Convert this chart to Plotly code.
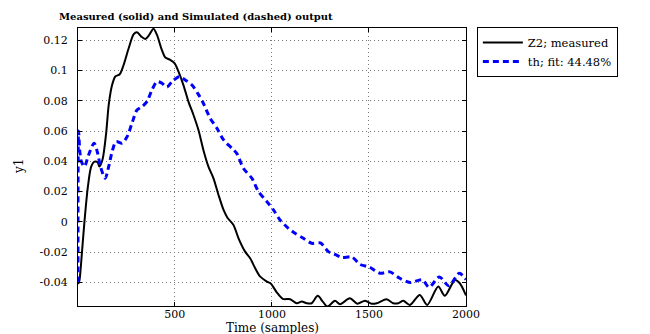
import plotly.graph_objects as go

# ---- data ----
t_meas = [1, 4, 9, 21, 35, 52, 69, 86, 102, 111, 127, 146, 159, 176, 193, 216, 236, 262, 288, 305,
          327, 348, 368, 390, 408, 430, 451, 476, 499, 519, 545, 570, 596, 622, 648, 673, 699, 725,
          751, 771, 802, 828, 862, 888, 914, 939, 974, 995, 1025, 1056, 1094, 1128, 1154, 1180,
          1205, 1236, 1262, 1286, 1325, 1351, 1402, 1440, 1480, 1514, 1540, 1591, 1625, 1651,
          1677, 1711, 1762, 1800, 1857, 1891, 1943, 1968, 2000]
y_meas = [-0.0395, -0.0405, -0.0383, -0.0207, 0.0013, 0.0233, 0.0365, 0.0398, 0.0394, 0.0365,
          0.0410, 0.0585, 0.0770, 0.0900, 0.0960, 0.0975, 0.1036, 0.1146, 0.1239, 0.1252,
          0.1223, 0.1208, 0.1234, 0.1275, 0.1234, 0.1146, 0.1085, 0.1070, 0.1047, 0.0992,
          0.0900, 0.0794, 0.0706, 0.0605, 0.0470, 0.0365, 0.0288, 0.0178, 0.0079, 0.0028,
          -0.0020, -0.0108, -0.0196, -0.0240, -0.0306, -0.0360, -0.0394, -0.0408, -0.0465,
          -0.0508, -0.0510, -0.0537, -0.0526, -0.0537, -0.0537, -0.0488, -0.0526, -0.0559,
          -0.0521, -0.0543, -0.0504, -0.0540, -0.0520, -0.0540, -0.0537, -0.0510, -0.0537,
          -0.0537, -0.0521, -0.0548, -0.0482, -0.0548, -0.0427, -0.0488, -0.0383, -0.0405,
          -0.0485]

t_sim = [1, 4, 10, 18, 34, 55, 84, 101, 118, 141, 160, 178, 197, 228, 254, 279, 305, 331, 356,
         382, 408, 434, 459, 485, 523, 553, 588, 622, 648, 682, 717, 751, 794, 819, 853, 897,
         931, 974, 1008, 1042, 1085, 1119, 1162, 1205, 1250, 1291, 1325, 1362, 1411, 1454,
         1505, 1557, 1608, 1659, 1711, 1775, 1810, 1863, 1912, 1965, 2000]
y_sim = [-0.0400, 0.0600, 0.0470, 0.0400, 0.0365, 0.0440, 0.0520, 0.0460, 0.0360, 0.0288,
         0.0370, 0.0470, 0.0530, 0.0520, 0.0563, 0.0651, 0.0739, 0.0761, 0.0794, 0.0871,
         0.0926, 0.0915, 0.0890, 0.0926, 0.0959, 0.0937, 0.0904, 0.0840, 0.0780, 0.0684,
         0.0618, 0.0541, 0.0486, 0.0453, 0.0354, 0.0288, 0.0200, 0.0134, 0.0079, 0.0013,
         -0.0042, -0.0075, -0.0108, -0.0141, -0.0139, -0.0196, -0.0215, -0.0235, -0.0231,
         -0.0280, -0.0300, -0.0339, -0.0330, -0.0372, -0.0400, -0.0383, -0.0431, -0.0363,
         -0.0422, -0.0339, -0.0380]

x_tickvals = [500, 1000, 1500, 2000]
x_ticktext = ["500", "1000", "1500", "2000"]
y_tickvals = [0.12, 0.1, 0.08, 0.06, 0.04, 0.02, 0, -0.02, -0.04]
y_ticktext = ["0.12", "0.1", "0.08", "0.06", "0.04", "0.02", "0", "-0.02", "-0.04"]

series_names = ["Z2; measured", "th; fit: 44.48%"]
title_text = "Measured (solid) and Simulated (dashed) output"
xlabel = "Time (samples)"
ylabel = "y1"

FONT = "DejaVu Serif"

fig = go.Figure()
fig.add_trace(go.Scatter(x=t_meas, y=y_meas, mode="lines", name=series_names[0],
                         line=dict(color="black", width=2, shape="spline", smoothing=0.8)))
fig.add_trace(go.Scatter(x=t_sim, y=y_sim, mode="lines", name=series_names[1],
                         line=dict(color="#0000ff", width=3, dash="6px,4px",
                                   shape="spline", smoothing=0.8)))

axis_common = dict(showline=True, linecolor="black", linewidth=1, mirror="allticks",
                   ticks="inside", ticklen=4, tickcolor="black",
                   showgrid=True, gridcolor="#7a7a7a", griddash="1px,3px", gridwidth=1,
                   zeroline=False, tickfont=dict(family=FONT, size=11, color="black"))

fig.update_xaxes(range=[1, 2000], tickmode="array", tickvals=x_tickvals,
                 ticktext=x_ticktext, ticklabelstandoff=-2, **axis_common)
fig.update_yaxes(range=[-0.0555, 0.128], tickmode="array", tickvals=y_tickvals,
                 ticktext=y_ticktext, ticklabelstandoff=7, **axis_common)

fig.update_layout(
    width=650, height=334,
    margin=dict(l=78, r=184, t=28, b=28),
    paper_bgcolor="white", plot_bgcolor="white",
    font=dict(family=FONT, size=11, color="black"),
    showlegend=True,
    legend=dict(x=1.028, y=1.004, xanchor="left", yanchor="top",
                bordercolor="black", borderwidth=1, bgcolor="white",
                font=dict(family=FONT, size=11.5, color="black"),
                tracegroupgap=0, itemwidth=40),
    annotations=[
        dict(text="<b>" + title_text + "</b>", xref="paper", yref="paper",
             x=-0.054, y=1.0, xanchor="left", yanchor="bottom", yshift=4,
             showarrow=False, font=dict(family=FONT, size=10, color="black")),
        dict(text=xlabel, xref="paper", yref="paper", x=0.5, y=0,
             xanchor="center", yanchor="top", yshift=-13, showarrow=False,
             font=dict(family=FONT, size=12, color="black")),
        dict(text=ylabel, xref="paper", yref="paper", x=0, y=0.5,
             xanchor="center", yanchor="middle", xshift=-59, textangle=-90,
             showarrow=False, font=dict(family=FONT, size=12, color="black")),
    ],
)

fig.write_html("out.html")
